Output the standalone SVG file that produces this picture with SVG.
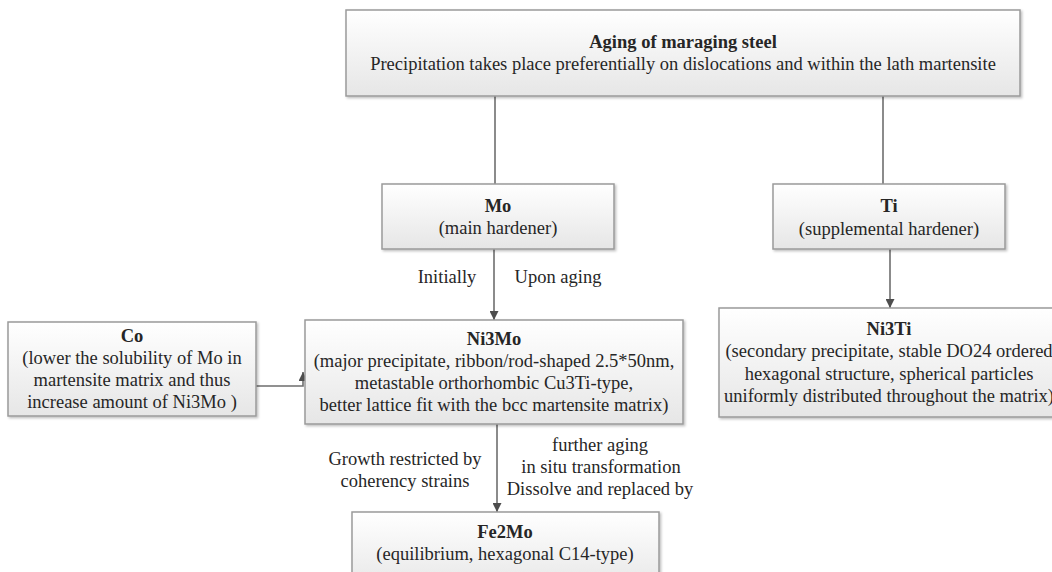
<svg xmlns="http://www.w3.org/2000/svg" width="1052" height="572" viewBox="0 0 1052 572">
  <defs>
    <linearGradient id="boxGrad" x1="0" y1="0" x2="0" y2="1">
      <stop offset="0" stop-color="#ffffff"/>
      <stop offset="1" stop-color="#e6e6e6"/>
    </linearGradient>
    <filter id="shadow" x="-5%" y="-5%" width="110%" height="120%">
      <feDropShadow dx="1.5" dy="1.5" stdDeviation="1" flood-color="#000" flood-opacity="0.25"/>
    </filter>
    <marker id="arrow" viewBox="0 0 10 10" refX="10" refY="5" markerWidth="9" markerHeight="9" markerUnits="userSpaceOnUse" orient="auto">
      <path d="M0,0 L10,5 L0,10 z" fill="#4d4d4d"/>
    </marker>
  </defs>
  <style>
    .box { fill: url(#boxGrad); stroke: #9a9a9a; stroke-width: 1.5; filter: url(#shadow); }
    text { font-family: "Liberation Serif", "Times New Roman", serif; font-size: 18.5px; fill: #262626; text-anchor: middle; }
    .b { font-weight: bold; }
    .conn { fill: none; stroke: #6e6e6e; stroke-width: 1.6; }
    .arr { marker-end: url(#arrow); }
  </style>
  <rect width="1052" height="572" fill="#ffffff"/>

  <g id="connectors">
    <path class="conn" d="M495,96 V184"/>
    <path class="conn" d="M883,96 V184"/>
    <path class="conn arr" d="M494,249 V320"/>
    <path class="conn arr" d="M890,249 V308"/>
    <path class="conn arr" d="M256,386 H303 V372"/>
    <path class="conn arr" d="M497,424 V512"/>
  </g>

  <g id="labels">
    <text x="447" y="283">Initially</text>
    <text x="558" y="283">Upon aging</text>
    <text x="405" y="465">Growth restricted by</text>
    <text x="405" y="487">coherency strains</text>
    <text x="600" y="451">further aging</text>
    <text x="601" y="473">in situ transformation</text>
    <text x="600" y="495">Dissolve and replaced by</text>
  </g>

  <g id="aging">
    <rect class="box" x="346" y="10" width="674" height="86"/>
    <text class="b" x="683" y="48">Aging of maraging steel</text>
    <text x="683" y="70">Precipitation takes place preferentially on dislocations and within the lath martensite</text>
  </g>

  <g id="mo">
    <rect class="box" x="382" y="184" width="232" height="65"/>
    <text class="b" x="498" y="212">Mo</text>
    <text x="498" y="234">(main hardener)</text>
  </g>

  <g id="ti">
    <rect class="box" x="773" y="184" width="232" height="65"/>
    <text class="b" x="889" y="212">Ti</text>
    <text x="889" y="235">(supplemental hardener)</text>
  </g>

  <g id="co">
    <rect class="box" x="8" y="322" width="248" height="94"/>
    <text class="b" x="132" y="342">Co</text>
    <text x="132" y="364">(lower the solubility of Mo in</text>
    <text x="132" y="386">martensite matrix and thus</text>
    <text x="132" y="408">increase amount of Ni3Mo )</text>
  </g>

  <g id="ni3mo">
    <rect class="box" x="305" y="320" width="378" height="104"/>
    <text class="b" x="494" y="345">Ni3Mo</text>
    <text x="494" y="367">(major precipitate, ribbon/rod-shaped 2.5*50nm,</text>
    <text x="494" y="389">metastable orthorhombic Cu3Ti-type,</text>
    <text x="494" y="411">better lattice fit with the bcc martensite matrix)</text>
  </g>

  <g id="ni3ti">
    <rect class="box" x="719" y="308" width="342" height="109"/>
    <text class="b" x="889" y="335">Ni3Ti</text>
    <text x="889" y="357">(secondary precipitate, stable DO24 ordered</text>
    <text x="889" y="380">hexagonal structure, spherical particles</text>
    <text x="889" y="402">uniformly distributed throughout the matrix)</text>
  </g>

  <g id="fe2mo">
    <rect class="box" x="352" y="512" width="307" height="80"/>
    <text class="b" x="505" y="538">Fe2Mo</text>
    <text x="505" y="560">(equilibrium, hexagonal C14-type)</text>
  </g>
</svg>
